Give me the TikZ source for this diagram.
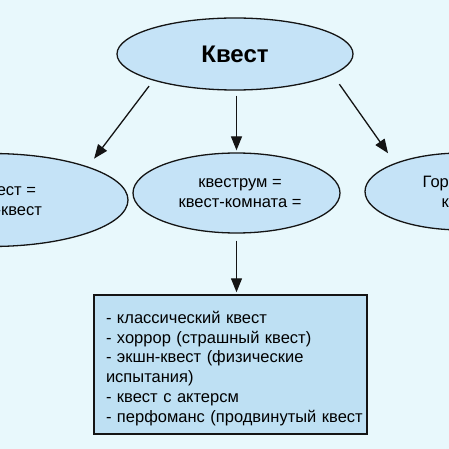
\documentclass[tikz,border=0pt]{standalone}
\usepackage{fontspec}
\setmainfont{Liberation Sans}
\usetikzlibrary{shapes.geometric,arrows.meta}
\definecolor{bgc}{RGB}{232,248,252}
\definecolor{ellc}{RGB}{197,227,247}
\definecolor{boxc}{RGB}{190,224,243}
\definecolor{linec}{RGB}{20,20,20}
\begin{document}
\begin{tikzpicture}[x=1pt,y=-1pt,
  oval/.style={ellipse,draw=linec,line width=1.3pt,fill=ellc,inner sep=0pt,align=center,font=\fontsize{16.5}{20}\selectfont},
  listbox/.style={rectangle,draw=linec,line width=1.5pt,fill=boxc,inner xsep=12pt,align=left,font=\fontsize{16.5}{19.7}\selectfont,minimum height=139pt,text width=249pt},
  arr/.style={draw=linec,line width=1.3pt,-{Triangle[length=14pt,width=11pt]}}]
\useasboundingbox (0,0) rectangle (449,449);
\clip (0,0) rectangle (449,449);
\fill[bgc] (0,0) rectangle (449,449);
\node[oval,minimum width=236pt,minimum height=72pt,font=\fontsize{24}{28}\selectfont\bfseries] (top) at (235,54) {Квест};
\node[oval,minimum width=207pt,minimum height=80pt] (mid) at (236.5,193) {\hspace*{7pt}квеструм =\\\hspace*{7pt}квест-комната =};
\node[oval,minimum width=274pt,minimum height=93pt] (left) at (-9,200) {Веб-квест =\\онлайн-квест};
\node[oval,minimum width=194pt,minimum height=77pt] (right) at (462,191.5) {Городской\\квест};
\node[listbox] (list) at (230.5,364.5) {\rule{0pt}{20pt}- классический квест\\- хоррор (страшный квест)\\- экшн-квест (физические\\испытания)\\- квест с актерсм\\\mbox{- перфоманс (продвинутый квест}};
\draw[arr,shorten <=7pt,shorten >=10pt] (top.198) -- (left.19);
\draw[arr,shorten <=5pt,shorten >=2pt] (top.south -| mid.north) -- (mid.north);
\draw[arr,shorten <=11.5pt,shorten >=12pt] (top.348) -- (right.157);
\draw[arr,shorten <=7pt,shorten >=2pt] (mid.south) -- (list.north -| mid.south);
\end{tikzpicture}
\end{document}
